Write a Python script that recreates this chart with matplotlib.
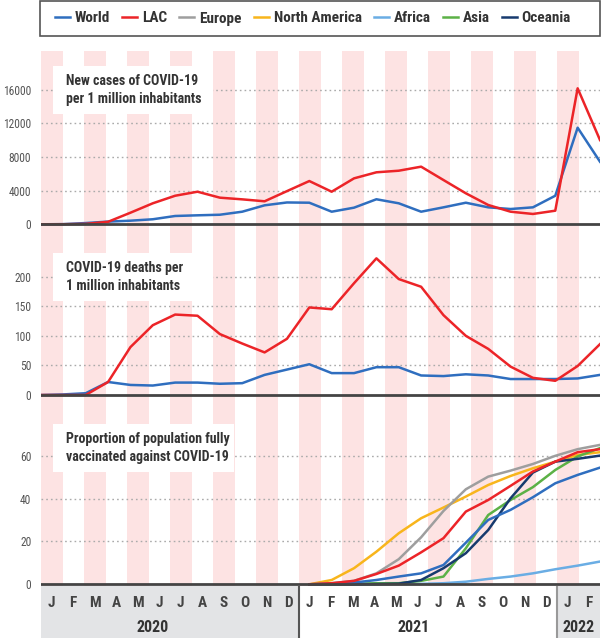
import numpy as np
import matplotlib
matplotlib.use("Agg")
import matplotlib.pyplot as plt
import matplotlib.font_manager as fm
from matplotlib.patches import Rectangle
from matplotlib.lines import Line2D

# condensed font if there is one
avail = {f.name for f in fm.fontManager.ttflist}
FONT = next((n for n in ["Roboto Condensed", "Liberation Sans Narrow", "Open Sans Condensed"] if n in avail), "DejaVu Sans")
plt.rcParams["font.family"] = [FONT, "DejaVu Sans"]
plt.rcParams["font.stretch"] = "condensed"

# data: Jan 2020 .. Feb 2022 (26 months)
months = ["J", "F", "M", "A", "M", "J", "J", "A", "S", "O", "N", "D"] * 2 + ["J", "F"]
years = ["2020", "2021", "2022"]

world_cases = [0, 20, 150, 320, 430, 600, 990, 1070, 1140, 1500, 2260, 2600, 2570,
               1500, 1980, 2980, 2500, 1500, 2020, 2570, 2020, 1820, 2020, 3400, 11500, 7450]
lac_cases = [0, 10, 50, 300, 1380, 2500, 3400, 3880, 3170, 2970, 2740, 3950, 5150,
             3880, 5470, 6190, 6380, 6860, 5270, 3690, 2300, 1500, 1230, 1620, 16190, 10030]

world_deaths = [0, 1, 3, 22, 17, 16, 21, 21, 19, 20, 34, 43, 52,
                37, 37, 47, 47, 33, 32, 35, 33, 27, 27, 27, 28, 34]
lac_deaths = [0, 0, 0, 22, 81, 118, 136, 134, 103, 87, 72, 95, 148,
              145, 189, 231, 196, 183, 135, 100, 78, 48, 29, 24, 49, 86]

# vaccination: Jan 2021 .. Feb 2022
vac_start = 12
vac_world = [0, 0.2, 0.8, 2.0, 3.6, 5.1, 9.0, 19.4, 30.0, 34.7, 40.6, 47.1, 51.0, 54.4]
vac_lac = [0, 0.5, 1.6, 4.8, 8.7, 14.9, 21.5, 33.9, 39.3, 45.9, 52.6, 57.2, 61.6, 63.0]
vac_europe = [0, 0.5, 1.6, 5.1, 11.7, 21.9, 34.2, 44.3, 50.2, 53.0, 56.1, 59.9, 63.0, 65.0]
vac_namerica = [0, 2.0, 7.5, 15.2, 23.8, 30.8, 35.8, 40.9, 46.3, 50.5, 54.1, 57.2, 60.3, 61.6]
vac_africa = [0, 0, 0, 0, 0.1, 0.2, 0.5, 1.2, 2.5, 3.6, 5.1, 7.0, 8.7, 10.6]
vac_asia = [0, 0, 0.2, 0.5, 0.5, 1.6, 3.6, 16.8, 32.3, 39.3, 45.3, 53.3, 59.6, 63.5]
vac_oceania = [0, 0, 0, 0.1, 0.3, 2.0, 7.5, 14.5, 25.3, 40.1, 52.1, 57.2, 58.5, 60.0]

colors = {"World": "#2f6ebf", "LAC": "#ec2428", "Europe": "#9e9e9e",
          "North America": "#f8b51c", "Africa": "#6aade4", "Asia": "#5cb146",
          "Oceania": "#173a6e"}

W, H = 602, 638
fig = plt.figure(figsize=(W / 100, H / 100), dpi=100)


def box(x0, y0, x1, y1):
    return [x0 / W, 1 - y1 / H, (x1 - x0) / W, (y1 - y0) / H]


def fig_rect(x0, y0, x1, y1, **kw):
    return Rectangle((x0 / W, 1 - y1 / H), (x1 - x0) / W, (y1 - y0) / H,
                     transform=fig.transFigure, **kw)


# background stripes
bg = fig.add_axes(box(41, 51, 600, 586))
bg.set_xlim(0, 26)
bg.set_ylim(0, 1)
bg.axis("off")
for m in range(0, 26, 2):
    bg.axvspan(m, m + 1, color="#fde3e3", lw=0)

n = len(world_cases)
x = np.arange(n)
xv = np.arange(vac_start, vac_start + len(vac_world))


def panel(ext, ylim, ticks, label, lbox):
    ax = fig.add_axes(box(*ext))
    ax.patch.set_alpha(0)
    ax.set_xlim(0, n - 1)
    ax.set_ylim(*ylim)
    for s in ax.spines.values():
        s.set_visible(False)
    ax.set_xticks([])
    ax.set_yticks(ticks)
    ax.tick_params(axis="y", length=0, pad=7, labelsize=8.3, labelcolor="#555")
    for t in ticks[1:]:
        ax.axhline(t, color="#aaaaaa", lw=1, ls=(0, (1.2, 2.2)), zorder=0.5)
    ax.axhline(0, color="#444", lw=2, zorder=3)
    ax.add_patch(fig_rect(*lbox, fc="white", ec="none", zorder=1.5, clip_on=False))
    fig.text((lbox[0] + 13) / W, 1 - ((lbox[1] + lbox[3]) / 2) / H, label,
             fontsize=10, fontweight="bold", color="#333", va="center",
             linespacing=1.45, zorder=5)
    return ax


lw = 1.8
ax1 = panel((41, 51, 600, 236), (-1393, 20631), [0, 4000, 8000, 12000, 16000],
            "New cases of COVID-19\nper 1 million inhabitants", (53, 66, 213, 114))
ax1.plot(x, world_cases, color=colors["World"], lw=lw, zorder=2)
ax1.plot(x, lac_cases, color=colors["LAC"], lw=lw, zorder=2)

ax2 = panel((41, 236, 600, 405), (-16.9, 268.8), [0, 50, 100, 150, 200],
            "COVID-19 deaths per\n1 million inhabitants", (53, 253, 213, 301))
ax2.plot(x, world_deaths, color=colors["World"], lw=lw, zorder=2)
ax2.plot(x, lac_deaths, color=colors["LAC"], lw=lw, zorder=2)

ax3 = panel((41, 405, 600, 586), (-0.8, 83.6), [0, 20, 40, 60],
            "Proportion of population fully\nvaccinated against COVID-19", (53, 424, 234, 472))
for name, vals in [("Africa", vac_africa), ("North America", vac_namerica),
                   ("Europe", vac_europe), ("Asia", vac_asia), ("Oceania", vac_oceania),
                   ("World", vac_world), ("LAC", vac_lac)]:
    ax3.plot(xv, vals, color=colors[name], lw=lw, zorder=2)

# x axis band
xa = fig.add_axes(box(41, 586, 600, 638))
xa.set_xlim(0, 26)
xa.set_ylim(0, 1)
xa.axis("off")
xa.axvspan(0, 12, color="#e3e4e6", lw=0)
xa.axvspan(24, 26, color="#e3e4e6", lw=0)
xa.axvline(12, color="#555", lw=1.5)
xa.axvline(24, color="#999", lw=1.5)
for i, m in enumerate(months):
    xa.text(i + 0.5, 0.67, m, ha="center", va="center", fontsize=11,
            fontweight="bold", color="#444")
for cx, yr in zip([5.2, 17.35, 25], years):
    xa.text(cx, 0.21, yr, ha="center", va="center", fontsize=11.5,
            fontweight="bold", color="#333")

# legend
fig.patches.append(fig_rect(40, 1, 600, 36, fc="white", ec="#555", lw=1.2))
handles = [Line2D([], [], color=c, lw=1.8) for c in colors.values()]
fig.legend(handles, list(colors.keys()), loc="center", ncol=7, frameon=False,
           bbox_to_anchor=(313 / W, 1 - 18.5 / H),
           handlelength=0.98, handletextpad=0.33, columnspacing=0.78,
           prop={"weight": "bold", "size": 11})
for t in fig.legends[0].get_texts():
    t.set_color("#333")

fig.savefig("out.png", dpi=100)
